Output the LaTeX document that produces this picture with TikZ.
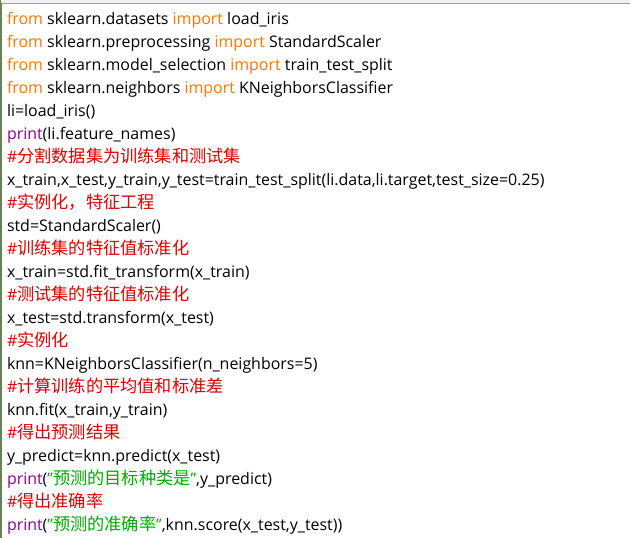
\documentclass[tikz,border=0pt]{standalone}
\usepackage{fontspec}
\setmainfont{Open Sans}
\newfontfamily\cjk{Noto Sans CJK SC}
\definecolor{kw}{HTML}{FF7700}
\definecolor{bi}{HTML}{900090}
\definecolor{cm}{HTML}{DD0000}
\definecolor{st}{HTML}{00AA00}
\definecolor{bordergreen}{HTML}{5E8C45}
\definecolor{bordergray}{HTML}{A0A0A0}
\newcommand\zh[1]{{\cjk\fontsize{17.2}{18}\selectfont #1}}
\newcommand\kw[1]{\textcolor{kw}{#1}}
\newcommand\bi[1]{\textcolor{bi}{#1}}
\newcommand\cm[1]{\textcolor{cm}{#1}}
\newcommand\st[1]{\textcolor{st}{#1}}
\newcommand\dq{\char34 }
\begin{document}
\begin{tikzpicture}[x=1pt,y=-1pt,
  codeline/.style={anchor=base west,inner sep=0pt,outer sep=0pt,font=\fontsize{15.95}{18}\selectfont}]
\useasboundingbox (0,0) rectangle (630,538);
\fill[white] (0,0) rectangle (630,538);
\fill[black!6] (0,0) rectangle (630,3);
\draw[bordergray,line width=1pt] (0,3.5) -- (630,3.5);
\draw[bordergreen,line width=1pt] (0.5,0) -- (0.5,538);
\draw[black!55,line width=1pt] (1.5,3) -- (1.5,538);
\foreach \i/\t in {
 1/{\kw{from} sklearn.datasets \kw{import} load\_iris},
 2/{\kw{from} sklearn.preprocessing \kw{import} StandardScaler},
 3/{\kw{from} sklearn.model\_selection \kw{import} train\_test\_split},
 4/{\kw{from} sklearn.neighbors \kw{import} KNeighborsClassifier},
 5/{li=load\_iris()},
 6/{\bi{print}(li.feature\_names)},
 7/{\cm{\#\zh{分割数据集为训练集和测试集}}},
 8/{x\_train,x\_test,y\_train,y\_test=train\_test\_split(li.data,li.target,test\_size=0.25)},
 9/{\cm{\#\zh{实例化，特征工程}}},
 10/{std=StandardScaler()},
 11/{\cm{\#\zh{训练集的特征值标准化}}},
 12/{x\_train=std.fit\_transform(x\_train)},
 13/{\cm{\#\zh{测试集的特征值标准化}}},
 14/{x\_test=std.transform(x\_test)},
 15/{\cm{\#\zh{实例化}}},
 16/{knn=KNeighborsClassifier(n\_neighbors=5)},
 17/{\cm{\#\zh{计算训练的平均值和标准差}}},
 18/{knn.fit(x\_train,y\_train)},
 19/{\cm{\#\zh{得出预测结果}}},
 20/{y\_predict=knn.predict(x\_test)},
 21/{\bi{print}(\st{\dq\zh{预测的目标种类是}\dq},y\_predict)},
 22/{\cm{\#\zh{得出准确率}}},
 23/{\bi{print}(\st{\dq\zh{预测的准确率}\dq},knn.score(x\_test,y\_test))}}
 \node[codeline] (l\i) at (7,{24+23*(\i-1)}) {\t};
\end{tikzpicture}
\end{document}
